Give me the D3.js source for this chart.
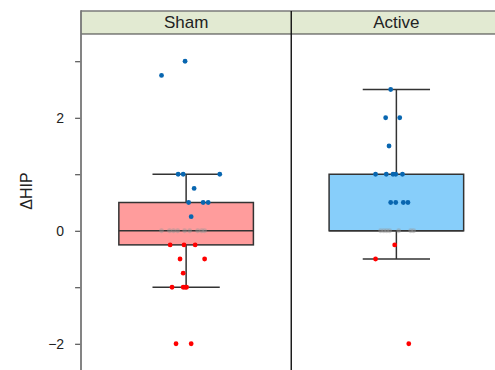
<!DOCTYPE html>
<html><head><meta charset="utf-8">
<script src="https://cdn.jsdelivr.net/npm/d3@7"></script>
<style>html,body{margin:0;padding:0;background:#fff;}svg{display:block;}</style>
</head><body>
<script>
// ---- data ----
const panels = ["Sham", "Active"];
const boxQ1 = [-0.25, 0];
const boxMedian = [0, 0];
const boxQ3 = [0.5, 1];
const whiskerLow = [-1, -0.5];
const whiskerHigh = [1, 2.5];

const shamValues = [3, 2.75, 1, 1, 1, 0.75, 0.5, 0.5, 0.5, 0.25,
  0, 0, 0, 0, 0, 0, 0, 0, 0,
  -0.25, -0.25, -0.25, -0.5, -0.5, -0.75, -1, -1, -1, -1, -2, -2];
const shamJitter = [-0.005, -0.117, -0.038, -0.014, 0.160, 0.038, 0.012, 0.081, 0.105, 0.024,
  -0.117, -0.079, -0.060, -0.040, -0.007, 0.017, 0.055, 0.074, 0.088,
  -0.076, -0.010, 0.043, -0.029, 0.088, -0.014, -0.067, -0.014, -0.005, 0.002, -0.048, 0.024];

const activeValues = [2.5, 2, 2, 1.5, 1, 1, 1, 1, 1, 0.5, 0.5, 0.5, 0.5,
  0, 0, 0, 0, 0, 0, 0, -0.25, -0.5, -2];
const activeJitter = [-0.027, -0.051, 0.016, -0.035, -0.099, -0.048, -0.016, -0.003, 0.029,
  -0.027, -0.003, 0.033, 0.055,
  -0.075, -0.060, -0.046, -0.032, 0.011, 0.068, 0.082, -0.008, -0.099, 0.059];

const yTicks = [-2, -1, 0, 1, 2, 3];
const yTickLabels = ["−2", "", "0", "", "2", ""];
const yTitle = "ΔHIP";

// ---- styles ----
const W = 495, H = 370;
const boxFills = ["#FF9C9C", "#87CEFA"];
const colPos = "#0866B0", colNeg = "#FF0000", colZero = "#9a9a9a";
const stripFill = "#E2EAD2";
const font = "'Liberation Sans', Arial, sans-serif";

const svg = d3.select("body").append("svg").attr("width", W).attr("height", H);

const plotLeft = 81, plotRight = 501.5, stripTop = 11, stripBottom = 34;
const x = d3.scaleBand().domain(panels).range([plotLeft, plotRight]).padding(0);
const y = d3.scaleLinear().domain([-2.5, 3.5]).range([372, 33]);
const bw = x.bandwidth();
const boxW = bw * 0.64;

// strip
svg.append("rect").attr("x", plotLeft).attr("y", stripTop).attr("width", plotRight - plotLeft)
  .attr("height", stripBottom - stripTop).attr("fill", stripFill);
svg.append("line").attr("x1", plotLeft).attr("x2", plotRight).attr("y1", stripTop).attr("y2", stripTop)
  .attr("stroke", "#7a7a7a").attr("stroke-width", 1.6);
svg.append("line").attr("x1", plotLeft).attr("x2", plotRight).attr("y1", stripBottom).attr("y2", stripBottom)
  .attr("stroke", "#3a3a3a").attr("stroke-width", 1.2);
svg.selectAll("text.strip").data(panels).join("text").attr("class", "strip")
  .attr("x", d => x(d) + bw / 2).attr("y", stripBottom - 6)
  .attr("text-anchor", "middle").attr("font-family", font).attr("font-size", 17).attr("fill", "#222")
  .text(d => d);

// panel divider
svg.append("line").attr("x1", x("Active")).attr("x2", x("Active")).attr("y1", stripTop).attr("y2", H)
  .attr("stroke", "#111").attr("stroke-width", 1.4);

// boxes
const g = svg.append("g");
panels.forEach((p, i) => {
  const cx = x(p) + bw / 2;
  const st = "#333";
  // whiskers
  g.append("line").attr("x1", cx).attr("x2", cx).attr("y1", y(boxQ3[i])).attr("y2", y(whiskerHigh[i]))
    .attr("stroke", st).attr("stroke-width", 1.5);
  g.append("line").attr("x1", cx).attr("x2", cx).attr("y1", y(boxQ1[i])).attr("y2", y(whiskerLow[i]))
    .attr("stroke", st).attr("stroke-width", 1.5);
  [whiskerHigh[i], whiskerLow[i]].forEach(v => {
    g.append("line").attr("x1", cx - boxW / 4).attr("x2", cx + boxW / 4).attr("y1", y(v)).attr("y2", y(v))
      .attr("stroke", st).attr("stroke-width", 1.5);
  });
  g.append("rect").attr("x", cx - boxW / 2).attr("y", y(boxQ3[i])).attr("width", boxW)
    .attr("height", y(boxQ1[i]) - y(boxQ3[i])).attr("fill", boxFills[i]).attr("stroke", st).attr("stroke-width", 1.5);
  g.append("line").attr("x1", cx - boxW / 2).attr("x2", cx + boxW / 2).attr("y1", y(boxMedian[i])).attr("y2", y(boxMedian[i]))
    .attr("stroke", st).attr("stroke-width", 1.5);
});

// points
const pts = [];
shamValues.forEach((v, k) => pts.push({p: "Sham", v, j: shamJitter[k]}));
activeValues.forEach((v, k) => pts.push({p: "Active", v, j: activeJitter[k]}));
g.selectAll("circle.pt").data(pts).join("circle").attr("class", "pt")
  .attr("cx", d => x(d.p) + bw / 2 + d.j * bw)
  .attr("cy", d => y(d.v))
  .attr("r", 2.4)
  .attr("fill", d => d.v > 0 ? colPos : d.v < 0 ? colNeg : colZero)
  .attr("opacity", d => d.v === 0 ? 0.45 : 1);

// y axis
svg.append("line").attr("x1", plotLeft).attr("x2", plotLeft).attr("y1", stripTop - 0.8).attr("y2", H)
  .attr("stroke", "#777").attr("stroke-width", 1.8);
const yAxis = d3.axisLeft(y).tickValues(yTicks).tickSize(5).tickPadding(11)
  .tickFormat((d, i) => yTickLabels[i]);
const ax = svg.append("g").attr("transform", `translate(${plotLeft - 0.9},0)`).call(yAxis);
ax.select(".domain").remove();
ax.selectAll(".tick line").attr("stroke", "#333").attr("stroke-width", 1);
ax.selectAll(".tick text").attr("font-family", font).attr("font-size", 14).attr("fill", "#222");

svg.append("text").attr("transform", "translate(32,191) rotate(-90)")
  .attr("text-anchor", "middle").attr("font-family", font).attr("font-size", 16).attr("fill", "#222")
  .text(yTitle);
</script>
</body></html>
